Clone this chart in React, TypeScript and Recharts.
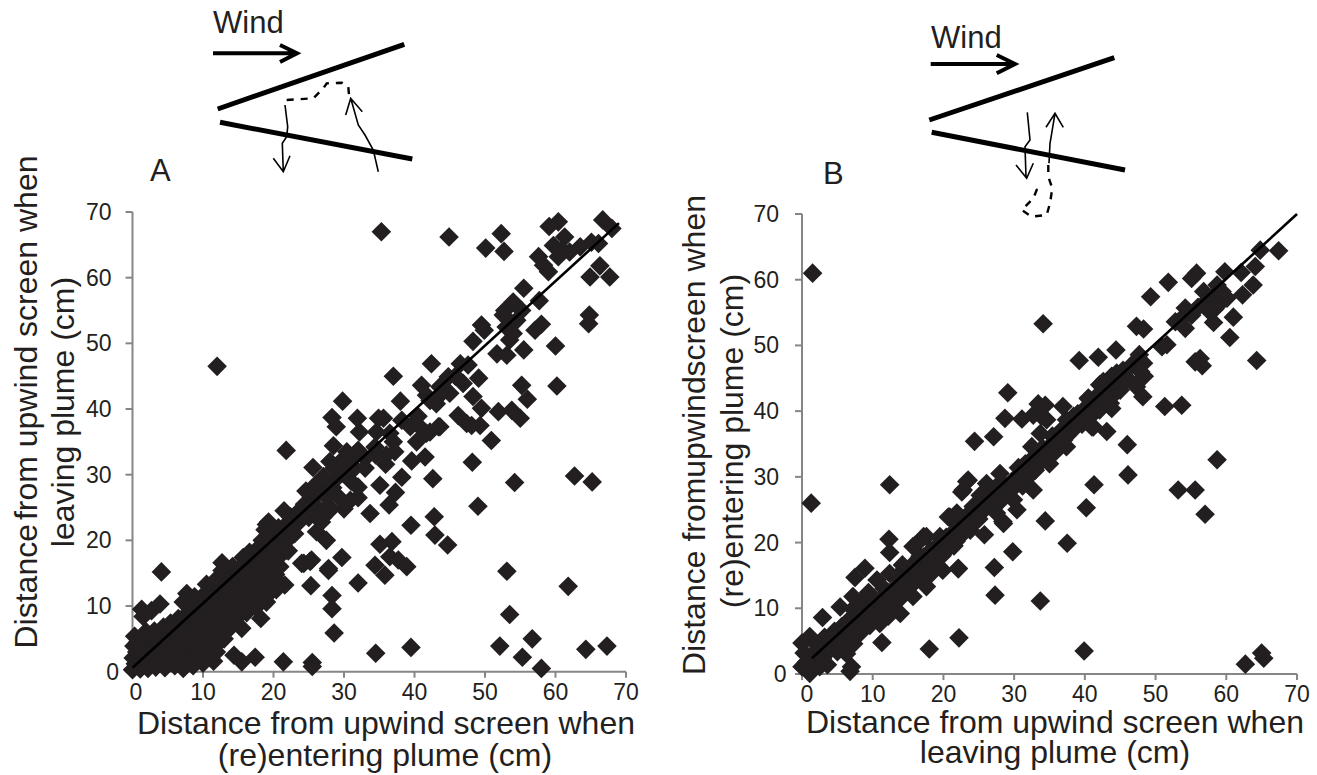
import React from "react";
import { ScatterChart, Scatter, XAxis, YAxis } from "recharts";

type P = [number, number];

const axisTicks = [0, 10, 20, 30, 40, 50, 60, 70];

const plumeALow: P[] = [
  [0,0.3],[0.4,1.2],[0.1,2.1],[0.6,3],[0.2,3.9],[0.8,4.6],[0.3,5.4],[1.1,0.4],[1.3,1.6],[1.6,2.7],[1.2,3.6],[1.7,4.4],[1.4,5.2],[1.9,6.1],[1.5,8.4],[1.3,9.5],[2.2,0.5],[2.5,1.4],[2.8,2.3],[2.3,3.2],[2.9,4.1],[2.6,5.1],[3.1,6.2],[2.7,9.3],[3.9,10.3],
  [3.3,0.7],[3.7,1.8],[3.5,2.9],[4,3.8],[3.6,4.9],[4.2,5.7],[4.4,6.8],[4.6,0.6],[4.9,1.5],[5.1,2.6],[4.8,3.4],[5.3,4.4],[5.2,5.5],[5.6,6.4],[5.4,7.4],[6,0.9],[6.2,2],[6.4,3.1],[6,4.2],[6.6,5.2],[6.3,6.1],[6.8,7.2],[6.5,8.1],[7.7,11.9],[7.2,10.6],[4.1,15.2],
  [7.2,0.5],[7.4,1.6],[7.8,2.7],[7.1,3.7],[7.6,4.6],[8,5.6],[7.4,6.8],[8,7.7],[7.7,8.8],[8.4,9.6],[8.6,0.9],[8.8,1.9],[9.2,3],[8.7,4],[9.3,5.1],[8.9,6.1],[9.4,7.2],[9,8.3],[9.5,9.3],[9,10.4],[8.8,11.4],[10,1.3],[10.3,2.4],[10.6,3.5],[10.1,4.6],[10.7,5.7],[10.2,6.7],[10.8,7.8],[10.4,8.8],[10.9,9.9],[10.3,11],[10.6,12.2],[10.5,13.3],
  [11.5,1.6],[11.9,3],[12,4.2],[11.6,5.3],[12.2,6.4],[11.7,7.5],[12.3,8.6],[11.8,9.7],[12.4,10.8],[11.9,11.9],[12.5,13],[12,14.2],[12.7,15.4],[12.7,16.6],[13,5],[13.4,6.2],[13.6,7.4],[13.2,8.5],[13.8,9.7],[13.3,10.8],[13.9,11.9],[13.4,13],[14,14.1],[13.6,15.3],[14.2,16],
  [14.4,2.5],[15.5,1.5],[15.5,6.6],[14.8,8.2],[15,9.4],[14.6,10.6],[15.2,11.7],[14.8,12.8],[15.3,14],[15,15],[15.6,16.2],[15.7,17.4],[16.2,9],[16.6,10.2],[16.1,11.4],[16.7,12.5],[16.2,13.6],[16.8,14.8],[16.4,15.9],[17,17],[16.6,18.2],[17.4,2.2],[18.2,8.1],[17.5,9.8],[17.9,11],[17.6,12.2],[18.1,13.4],[17.7,14.5],[18.2,15.6],[17.8,16.8],[18.4,17.9],[18,19],[18.4,20],
  [19,10.6],[19.4,11.9],[19,13],[19.5,14.2],[19.1,15.4],[19.6,16.5],[19.2,17.7],[19.8,18.8],[19.3,20],[19.3,21.4],[19,22.4],[20.4,12.5],[20.8,13.6],[20.3,14.8],[20.9,16],[20.5,17.2],[21,18.4],[20.6,19.6],[21.1,20.7],[20.7,21.9],[21.6,13.2],[21.9,18.5],[22.3,20.4],[21.8,22.4],[22.4,23.6],[21.5,24.5],
];

const plumeAMid: P[] = [
  [21.8,33.7],[21.4,1.5],[25.5,1.4],[25.5,0.8],[24.3,16.5],[25.4,17],[23,21],[25.3,13.1],[27.8,15.4],[28.3,11.6],[28.3,9.6],[28.6,5.9],[34.5,2.8],[39.5,3.7],[32,13.5],[35.8,14.7],[29.7,17.4],[12,46.5],
  [22.5,22.5],[23.2,24],[23.8,23],[24.4,25.5],[25,23.5],[25.6,26.5],[26.2,25],[26.8,27.5],[26,28.5],[27.4,29],[27,23.5],[27.8,25.2],[28.4,28],[29,29.5],[28.6,31],[30,24.8],[31,29],[30.6,31],[32,26.5],[31.4,33],[30.4,33.5],[33,32.5],[34.5,33],[36,33],[31.5,31],
  [29.8,41.2],[28.3,38.7],[28.9,37.3],[31.9,38.6],[32.2,36.5],[34.9,38.6],[38,41.2],[41,43.6],[38.2,38.3],[40.5,38.9],[43.4,37.3],[41.7,36.3],[40.3,35],[46.2,39],[41.5,32.7],[39.6,32.1],[37,35],[37.2,33.5],[34.6,36.5],[32,33.7],[34.4,34.2],[28.5,34.4],[25.6,31.1],[28,32],[29.7,32.2],[35.9,31.6],[38.2,29.6],[42.6,29.4],[33,31],[27.1,29.7],[29.9,30.2],[35.1,28.4],[37.3,27.3],[32,28.1],[24.6,27.5],[27.5,26.6],[29.4,26.4],[25.2,25.1],[28,24.6],[30.9,26.1],[33.7,24.1],[36.4,25.4],[19.3,22.8],[18.8,21.6],[22.8,21.1],[26.8,22.8],[26.1,21.3],[27.5,20],[39.5,22.3],[42.8,23.6],[42.9,20.8],[44.7,19.3],[36.8,19.8],[35.1,19.4],[22.1,18.4],[25.2,16.8],[24,16.5],[36.5,17.5],[37.7,17],[38.9,16],[34.4,16.2],[27.8,15.7],
];

const plumeAHigh: P[] = [
  [35.3,67],[44.9,66.2],[52.3,66.7],[50.1,64.5],[52.7,64],[60.4,68.5],[59.1,67.8],[66.7,68.8],[68,67.5],[61.3,66.2],[59.7,64.9],[60.9,64.2],[65.1,65.4],[66.1,65.2],[63.5,64.7],[62,63.9],[60.4,63.2],[57.6,63.2],[58.3,61.9],[59,60.9],[66.3,61.8],[64.9,60.1],[67.7,60.1],
  [55.5,58.4],[57.7,56.5],[54,56.3],[52.6,54.3],[55.2,55],[54.5,53.5],[58,52.9],[57.1,52],[64.8,54.3],[64.7,53],[49.5,52.8],[49.9,52],[48.3,50.3],[53.5,50.5],[51.7,48.4],[53.1,48.2],[55.5,49],[60,49.6],[42.4,46.9],[37,45],[46.5,46.9],[47.6,46.7],[49.1,44.7],[44.8,44.9],[46.9,43.9],[55.2,43.6],[60.2,43.5],[56,41.5],[43.4,41.9],[48.3,41.9],[41.7,42.1],[49.5,40.1],[47.4,37.8],[49.3,37.5],[51.9,39.6],[53.8,39.8],[55,38.6],[43.6,37.3],[42.2,36.5],[50.9,35.2],[35.6,38.6],[43.1,40.8],[36.5,36.3],[41.2,36.8],
  [43.6,43.4],[42.2,41.3],[45,42.4],[39.4,37.3],[53,52.5],[54,51.5],[52.8,55],[45.8,45],
  [48.2,31.9],[54.2,28.8],[49,25.2],[62.7,29.8],[65.2,28.9],[53.1,15.3],[61.8,13],[53.5,8.7],[56.7,5],[52.1,3.9],[55.3,2.2],[58,0.5],[64.3,3.4],[67.3,3.9],[48.1,37.5],
];

const plumeBLow: P[] = [
  [0.9,2.6],[1.1,5.7],[0,4.7],[0,1.1],[1.1,0.1],[2.5,1.1],[0.6,1.8],[1.6,1.5],[0.3,3.2],[1.9,3.3],[2.9,2.4],[3.1,4],[1.9,4.6],[3.6,1.4],[7,1.1],[6.8,0.4],[6.3,3.1],[5,3.4],[4,3.7],[4.4,5.2],[3.2,5.6],[2.9,8.6],
  [5.4,10.2],[4.6,6.5],[5.6,7.2],[6.4,5.6],[7.3,4.6],[8.2,6.2],[6.8,8.4],[7.2,9.9],[8.1,8.2],[9.6,7.4],[11,7.7],[7.2,11.8],[8.6,11.2],[9.5,9.8],[10.6,14.3],[9.4,12.4],[10.2,11],[11.4,10],[12.2,8.8],[13.9,9.2],[11.3,4.8],[8.9,16.1],[7.5,14.7],[12.4,15.3],[11.6,13],[12.8,11.6],[13.8,12.6],[13.4,14.8],[15,13.4],[14.2,16.6],[15.7,11.8],[17.6,13.3],[16.2,14.8],[15.6,16.6],[15.7,19.4],[17,16.4],[18.2,15.2],[19.9,15.8],[17.2,20.9],[16,19.6],[12.3,20.5],[12.4,18.5],[16.7,17.9],[18.6,18.9],[19,18.9],[18.2,17.4],[19.5,20.9],[20,20.4],[20.9,23.9],[20.7,23.9],[17.6,20.9],
  [12.4,28.8],[1.3,26],[1.5,61],[22.1,16],[18,3.8],[22.2,5.5],[21.5,19.5],[22.1,16.1],[39.9,3.5],[62.7,1.5],[65,3.2],[65.3,2.4],
];

const plumeBBand: P[] = [
  [4.8,5.2],[5.6,4.6],[6.2,6.8],[7,6],[7.6,7.4],[8.2,8.8],[8.8,7.6],[9.2,9.2],[9.8,8.4],[10.4,10.2],[10.8,9.2],[11.2,11.4],[11.8,10.4],[12.2,12.4],[12.8,10.8],[13.2,13.2],[13.8,11.4],[14.2,14.4],[14.6,12.6],[15.2,15.2],[15.6,13.6],[16.2,16.6],[16.8,15],[17.2,17.8],[17.8,16],[18.2,18.8],[18.8,16.8],[19.4,19.8],[19.8,18],[20.4,20.8],[20.8,19.2],[21.4,21.6],[21.8,20.2],[22.4,23],[22.8,21.4],[23.4,24.2],[24,22.8],[24.6,25],[25,23.6],[25.6,24.8],[25.2,27.2],[26.4,27.4],[26.8,25.4],[27.4,28.4],[27.8,26],[28.6,28.8],[29,27.6],[29.6,29.2],[30,28.4],[30.6,31.4],[31.2,28.6],[31.6,32],[32,30],[32.6,32.8],[33,31],[33.6,33.8],[34,34.4],[34.8,33.6],[35.4,36.2],[35.8,33.8],[36.6,37],[37,35.6],[37.6,36.4],[38.2,37],[39,39.6],[39.6,38],[40.2,40.6],[40.8,39.2],[41.6,42.2],[42,40.6],[43,43.4],[43.6,42],[44.6,44.6],[45.4,46.2],[46,45],[46.6,47],
];

const plumeBMid: P[] = [
  [23.8,21.9],[25.8,21.2],[23.3,22.4],[21.9,24.5],[24.2,25.5],[26.1,26],[27.5,24.5],[28.5,22.9],[28.4,23.2],[30.4,25],[29.9,26.5],[28,27],[32.7,28],[30.8,30.5],[28,30.5],[26.1,29],[23.3,29.3],[22.6,27.7],[23.5,29.5],[22.8,28],[34.1,32.6],[35,32],[32.5,34.6],[36.5,34.6],[37.4,34.6],[33.7,36.6],[35.5,35.2],[36.5,35.6],[38.9,38.2],[37.4,38.7],[29.8,18.6],[27.2,16.2],[33.7,11.1],[27.3,12],[34.4,23.3],[37.5,19.9],[40.2,25.3],[41.3,28.8],[46.1,30.3],[46,34.9],[43.1,36.9],[41,37.6],[41.2,37.6],[38.4,39.2],[34.6,38.7],[34.4,40.9],[36.9,40.7],[33.9,39.2],[32.7,39.4],[31.1,38.8],[33.4,41.1],[29.1,42.8],[28.7,38.9],[27.1,36.1],[24.4,35.4],[34.1,53.3],[39.2,47.7],[41.9,48.2],[44.4,49.3],[40.5,41.9],[40.5,42],[42.1,40.2],[42.6,41.6],[43.8,40.4],[43.6,41.2],[45,43.2],[44,44.7],[42.1,44],[42.6,44.5],[43.8,45.3],[44.5,45.8],[47.3,43.7],[48.2,42.2],[47.7,48.6],[48.3,47.3],[47.9,46],[48.4,45.3],
];

const plumeBHigh: P[] = [
  [67.4,64.4],[64.8,64.5],[64.1,62],[62.1,61.1],[59.8,61.2],[55.8,61],[55.1,60.2],[51.8,59.6],[49.3,57.4],[63.8,59.2],[62.3,57.7],[61,54.3],[58.2,53.5],[60.5,51.2],[56.8,58.2],[58.7,59.2],[58,57.4],[59.1,56.4],[60.1,57.2],[54.2,55.7],[52.8,53.6],[54.2,52.6],[55.1,54.6],[53.5,53.9],[47.3,52.9],[48.3,52.5],[51.6,50.1],[50.9,49.8],[64.3,47.7],[56.3,48],[55.6,47.5],[56.6,46.9],[51.3,40.7],[53.7,40.9],[58.7,32.6],[53.2,28],[55.6,28],[57,24.3],
  [57.4,57],[59.4,58.2],[58.4,55.6],[57.6,55.2],[56,55.8],
];

const plumeA = [...plumeALow, ...plumeAMid, ...plumeAHigh].map(([x, y]) => ({ x, y }));
const plumeB = [...plumeBLow, ...plumeBBand, ...plumeBMid, ...plumeBHigh].map(([x, y]) => ({ x, y }));

const fitA = [{ x: 0, y: 0.6 }, { x: 69, y: 68.3 }];
const fitB = [{ x: 1.4, y: 2.4 }, { x: 70, y: 70 }];

const INK = "#231f20";
const AXIS = "#868686";
const FONT = "'Liberation Sans', Arial, sans-serif";

function Diamond(props: any) {
  const { cx, cy } = props;
  if (cx == null || cy == null) return null;
  const h = 9.8;
  return <path d={`M${cx},${cy - h}L${cx + h},${cy}L${cx},${cy + h}L${cx - h},${cy}Z`} fill={INK} />;
}

function NoMark() {
  return <g />;
}

function XTick(props: any) {
  const { x, y, payload, zeroShift } = props;
  const dx = payload.value === 0 ? zeroShift : 0;
  return (
    <text x={x + dx} y={y + 20} textAnchor="middle" fontFamily={FONT} fontSize={23} fill={INK}>
      {payload.value}
    </text>
  );
}

function YTick(props: any) {
  const { x, y, payload, labelShift } = props;
  const dx = payload.value === 0 ? labelShift + 7.5 : labelShift;
  return (
    <text x={x + dx} y={y + 8} textAnchor="end" fontFamily={FONT} fontSize={23} fill={INK}>
      {payload.value}
    </text>
  );
}

function Panel(props: {
  data: { x: number; y: number }[];
  fit: { x: number; y: number }[];
  left: number;
  width: number;
  yAxisWidth: number;
  marginRight: number;
  top: number;
  xAxisHeight: number;
  xZero: number;
  labelShift: number;
}) {
  const { data, fit, left, width, yAxisWidth, marginRight, top, xAxisHeight, xZero, labelShift } = props;
  const line = { stroke: AXIS, strokeWidth: 2 };
  return (
    <div style={{ position: "absolute", left, top: 0 }}>
      <ScatterChart width={width} height={775} margin={{ top, right: marginRight, bottom: 0, left: 0 }}>
        <XAxis
          type="number"
          dataKey="x"
          domain={[0, 70]}
          ticks={axisTicks}
          interval={0}
          axisLine={line}
          tickLine={line}
          tickSize={6}
          height={xAxisHeight}
          tick={<XTick zeroShift={xZero} />}
        />
        <YAxis
          type="number"
          dataKey="y"
          domain={[0, 70]}
          ticks={axisTicks}
          interval={0}
          axisLine={line}
          tickLine={line}
          tickSize={7}
          width={yAxisWidth}
          tick={<YTick labelShift={labelShift} />}
        />
        <Scatter data={data} isAnimationActive={false} shape={<Diamond />} />
        <Scatter data={fit} isAnimationActive={false} shape={<NoMark />} line={{ stroke: "#000", strokeWidth: 2.6 }} />
      </ScatterChart>
    </div>
  );
}

const titleSize = 32;

function Overlay() {
  const t = { fontFamily: FONT, fill: INK };
  const thick = { stroke: "#000", fill: "none", strokeWidth: 5 };
  const mid = { stroke: "#000", fill: "none", strokeWidth: 4 };
  const thin = { stroke: "#000", fill: "none", strokeWidth: 1.6 };
  const dash = { stroke: "#000", fill: "none", strokeWidth: 2.4, strokeDasharray: "7 7" };
  return (
    <svg width={1317} height={775} style={{ position: "absolute", left: 0, top: 0, pointerEvents: "none" }}>
      {/* Panel A sketch */}
      <text x={213} y={33} fontSize={31} {...t}>Wind</text>
      <path d="M213,53.3H297M280,45L297,53.3L280,62" {...mid} />
      <path d="M217.7,109L404.3,44.3" {...thick} />
      <path d="M220,122.3L412.3,159" {...thick} />
      <path d="M285,105L287.7,126.7L286.7,136.7L282.3,143.3L283.3,171.7M273.3,158.3L283.3,171.7L290,155.7" {...thin} />
      <path d="M286.7,100L313.3,98.3L323.3,88.3L326.7,83.3L341.7,82.7L348.3,86.7L349,95" {...dash} />
      <path d="M378.3,171.7L373.3,150L365,135L358.3,125L350.7,98.3M345.7,115L350.7,98.3L362.3,111.7" {...thin} />
      <text x={150} y={181} fontSize={31} {...t}>A</text>

      {/* Panel B sketch */}
      <text x={931} y={48} fontSize={31} {...t}>Wind</text>
      <path d="M930.7,64H1015M996.7,55L1015,64L996.7,73.3" {...mid} />
      <path d="M929.3,120L1114.3,57.7" {...thick} />
      <path d="M931.7,132.3L1125,170" {...thick} />
      <path d="M1027.3,112.3L1030,140L1025,146.7L1026,176.7M1016,165L1026.7,178.3L1033.3,163.3" {...thin} />
      <path d="M1049,163.3L1050,143.3L1051.7,133.3L1055,113.3M1046,127.3L1055,113.3L1063.3,127.3" {...thin} />
      <path d="M1048.3,165L1048.3,176.7L1052.3,188.3L1050,203.3L1046.7,215L1031.7,216.7L1021.7,210L1033.3,198.3L1036.7,190L1031.7,184" {...dash} />
      <text x={823} y={184} fontSize={31} {...t}>B</text>

      {/* Axis titles A */}
      <text x={386} y={734} textAnchor="middle" fontSize={titleSize} {...t}>Distance from upwind screen when</text>
      <text x={385} y={766} textAnchor="middle" fontSize={titleSize} {...t}>(re)entering plume (cm)</text>
      <text transform="translate(37,402) rotate(-90)" textAnchor="middle" fontSize={titleSize} {...t}>
        Distance<tspan dx={-5}> from upwind screen when</tspan>
      </text>
      <text transform="translate(74,412) rotate(-90)" textAnchor="middle" fontSize={titleSize} {...t}>leaving plume (cm)</text>

      {/* Axis titles B */}
      <text x={1055} y={733} textAnchor="middle" fontSize={titleSize} {...t}>Distance from upwind screen when</text>
      <text x={1055} y={763} textAnchor="middle" fontSize={titleSize} {...t}>leaving plume (cm)</text>
      <text transform="translate(705,435) rotate(-90)" textAnchor="middle" fontSize={titleSize} {...t}>
        Distance from<tspan dx={-9}> upwind</tspan><tspan dx={-9}> screen when</tspan>
      </text>
      <text transform="translate(743,441) rotate(-90)" textAnchor="middle" fontSize={titleSize} {...t}>(re)entering plume (cm)</text>
    </svg>
  );
}

export default function App() {
  return (
    <div style={{ position: "absolute", left: 0, top: 0, width: 1317, height: 775, background: "#fff", overflow: "hidden" }}>
      <Panel data={plumeA} fit={fitA} left={0} width={660} yAxisWidth={132.5} marginRight={34} top={212} xAxisHeight={103.3} xZero={3.5} labelShift={-12} />
      <Panel data={plumeB} fit={fitB} left={660} width={657} yAxisWidth={142} marginRight={20} top={214} xAxisHeight={101} xZero={5} labelShift={-14} />
      <Overlay />
    </div>
  );
}
